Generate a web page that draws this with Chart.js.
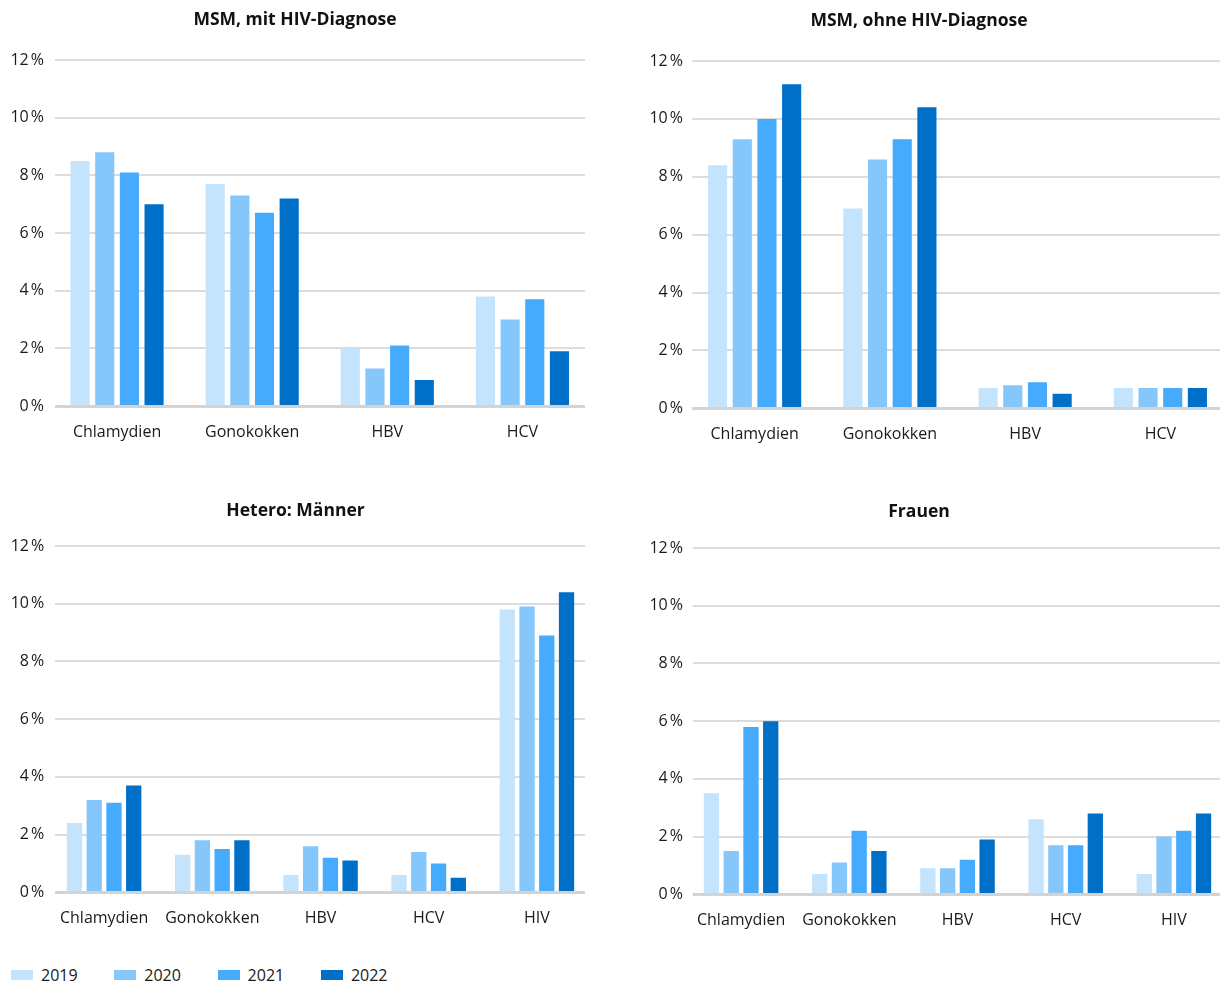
<!DOCTYPE html>
<html>
<head>
<meta charset="utf-8">
<script src="https://cdn.jsdelivr.net/npm/chart.js@4.4.0/dist/chart.umd.min.js"></script>
<style>
  html, body { margin: 0; padding: 0; background: #fff; overflow: hidden; }
  body { width: 1220px; height: 985px; position: relative; font-family: "Open Sans", sans-serif; }
  .box { position: absolute; }
  #legend { position: absolute; left: 11px; top: 964px; display: flex; font-size: 16px; color: #1a1a1a; }
  #legend .item { display: flex; align-items: center; width: 103.3px; }
  #legend .swatch { width: 22px; height: 10px; margin-right: 8px; }
</style>
</head>
<body>
<div class="box" id="b1" style="left:0;top:0;width:596px;height:446px"><canvas id="c1"></canvas></div>
<div class="box" id="b2" style="left:610px;top:0;width:652px;height:448.3px"><canvas id="c2"></canvas></div>
<div class="box" id="b3" style="left:0;top:490px;width:596px;height:442.3px"><canvas id="c3"></canvas></div>
<div class="box" id="b4" style="left:610px;top:490px;width:652px;height:444.3px"><canvas id="c4"></canvas></div>
<div id="legend"></div>
<script>
// years and colours
var years = ['2019', '2020', '2021', '2022']
var yearColors = ['#c4e3fd', '#85c6fb', '#46abfc', '#006fc7']

// y axis
var yTickLabels = ['0\u202F%', '2\u202F%', '4\u202F%', '6\u202F%', '8\u202F%', '10\u202F%', '12\u202F%']

// MSM, mit HIV-Diagnose
var msmMitTitle = 'MSM, mit HIV-Diagnose'
var msmMitCats = ['Chlamydien', 'Gonokokken', 'HBV', 'HCV']
var msmMit2019 = [8.5, 7.7, 2.0, 3.8]
var msmMit2020 = [8.8, 7.3, 1.3, 3.0]
var msmMit2021 = [8.1, 6.7, 2.1, 3.7]
var msmMit2022 = [7.0, 7.2, 0.9, 1.9]

// MSM, ohne HIV-Diagnose
var msmOhneTitle = 'MSM, ohne HIV-Diagnose'
var msmOhneCats = ['Chlamydien', 'Gonokokken', 'HBV', 'HCV']
var msmOhne2019 = [8.4, 6.9, 0.7, 0.7]
var msmOhne2020 = [9.3, 8.6, 0.8, 0.7]
var msmOhne2021 = [10.0, 9.3, 0.9, 0.7]
var msmOhne2022 = [11.2, 10.4, 0.5, 0.7]

// Hetero: Männer
var heteroTitle = 'Hetero: Männer'
var heteroCats = ['Chlamydien', 'Gonokokken', 'HBV', 'HCV', 'HIV']
var hetero2019 = [2.4, 1.3, 0.6, 0.6, 9.8]
var hetero2020 = [3.2, 1.8, 1.6, 1.4, 9.9]
var hetero2021 = [3.1, 1.5, 1.2, 1.0, 8.9]
var hetero2022 = [3.7, 1.8, 1.1, 0.5, 10.4]

// Frauen
var frauenTitle = 'Frauen'
var frauenCats = ['Chlamydien', 'Gonokokken', 'HBV', 'HCV', 'HIV']
var frauen2019 = [3.5, 0.7, 0.9, 2.6, 0.7]
var frauen2020 = [1.5, 1.1, 0.9, 1.7, 2.0]
var frauen2021 = [5.8, 2.2, 1.2, 1.7, 2.2]
var frauen2022 = [6.0, 1.5, 1.9, 2.8, 2.8]

// horizontal grid lines, a bit shorter than the plot area like in the original
function drawGrid(chart, zero) {
  var ctx = chart.ctx, area = chart.chartArea, y = chart.scales.y
  var o = chart.options.plugins.gridInset
  ctx.save()
  y.ticks.forEach(function (t) {
    if ((t.value === 0) !== zero) return
    var py = Math.round(y.getPixelForValue(t.value))
    ctx.beginPath()
    ctx.lineWidth = zero ? 3 : 2
    ctx.strokeStyle = zero ? '#d3d3d3' : '#dcdcdc'
    ctx.moveTo(area.left + o.left, py + (zero ? 0.5 : 0))
    ctx.lineTo(area.right - o.right, py + (zero ? 0.5 : 0))
    ctx.stroke()
  })
  ctx.restore()
}
var gridInset = {
  id: 'gridInset',
  beforeDatasetsDraw: function (chart) { drawGrid(chart, false) },
  afterDatasetsDraw: function (chart) { drawGrid(chart, true) }
}

function makeChart(id, title, cats, series, lay) {
  var ctx = document.getElementById(id).getContext('2d')
  return new Chart(ctx, {
    type: 'bar',
    data: {
      labels: cats,
      datasets: series.map(function (d, i) {
        return {
          label: years[i],
          data: d,
          backgroundColor: yearColors[i],
          borderWidth: 0,
          categoryPercentage: 0.73,
          barPercentage: 0.775
        }
      })
    },
    options: {
      responsive: true,
      maintainAspectRatio: false,
      animation: false,
      layout: { padding: { left: 0, right: lay.padRight, top: 0, bottom: 0 } },
      plugins: {
        legend: { display: false },
        tooltip: { enabled: false },
        title: {
          display: true,
          text: title,
          color: '#111',
          font: { family: 'Open Sans', size: 17.5, weight: 'bold' },
          padding: { top: lay.titleTop, bottom: lay.titleBottom }
        },
        gridInset: { left: lay.gridLeft, right: lay.gridRight }
      },
      scales: {
        x: {
          grid: { display: false, drawTicks: false },
          border: { display: false },
          ticks: {
            color: '#1a1a1a',
            font: { family: 'Open Sans', size: 16 },
            padding: 17,
            autoSkip: false,
            maxRotation: 0
          },
          afterFit: function (s) { s.height = 40 }
        },
        y: {
          min: 0,
          max: 12,
          grid: { display: false, drawTicks: false },
          border: { display: false },
          ticks: {
            stepSize: 2,
            color: '#1a1a1a',
            font: { family: 'Open Sans', size: 16 },
            padding: lay.tickPad,
            callback: function (v, i) { return yTickLabels[i] }
          },
          afterFit: function (s) { s.width = lay.axisWidth }
        }
      }
    },
    plugins: [gridInset]
  })
}

makeChart('c1', msmMitTitle, msmMitCats, [msmMit2019, msmMit2020, msmMit2021, msmMit2022],
  { padRight: 6, titleTop: 9.5, titleBottom: 29.5, axisWidth: 49.5, tickPad: 5.5, gridLeft: 5.5, gridRight: 5 })
makeChart('c2', msmOhneTitle, msmOhneCats, [msmOhne2019, msmOhne2020, msmOhne2021, msmOhne2022],
  { padRight: 34, titleTop: 10.5, titleBottom: 29.5, axisWidth: 77, tickPad: 4, gridLeft: 5.3, gridRight: 0 })
makeChart('c3', heteroTitle, heteroCats, [hetero2019, hetero2020, hetero2021, hetero2022],
  { padRight: 5, titleTop: 10.5, titleBottom: 24.5, axisWidth: 50, tickPad: 5.7, gridLeft: 5, gridRight: 6 })
makeChart('c4', frauenTitle, frauenCats, [frauen2019, frauen2020, frauen2021, frauen2022],
  { padRight: 34, titleTop: 11.5, titleBottom: 25.5, axisWidth: 77, tickPad: 4, gridLeft: 5.8, gridRight: 0 })

// legend below the charts
var legend = document.getElementById('legend')
years.forEach(function (y, i) {
  var item = document.createElement('div')
  item.className = 'item'
  var sw = document.createElement('span')
  sw.className = 'swatch'
  sw.style.background = yearColors[i]
  var tx = document.createElement('span')
  tx.textContent = y
  item.appendChild(sw)
  item.appendChild(tx)
  legend.appendChild(item)
})
</script>
</body>
</html>
